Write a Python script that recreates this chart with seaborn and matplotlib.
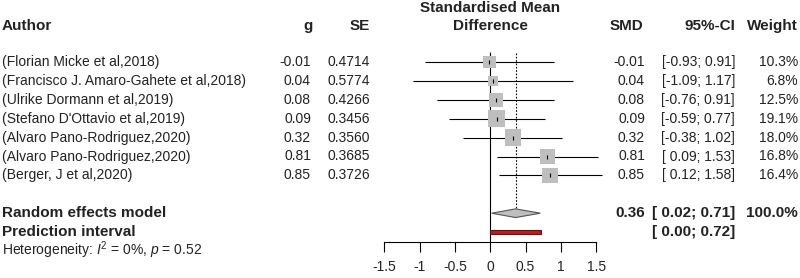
import matplotlib
matplotlib.use("Agg")
import matplotlib.pyplot as plt
import matplotlib.transforms as mtransforms
import numpy as np
import pandas as pd
import seaborn as sns

authors = ["(Florian Micke et al,2018)",
           "(Francisco J. Amaro-Gahete et al,2018)",
           "(Ulrike Dormann et al,2019)",
           "(Stefano D'Ottavio et al,2019)",
           "(Alvaro Pano-Rodriguez,2020)",
           "(Alvaro Pano-Rodriguez,2020)",
           "(Berger, J et al,2020)"]
g = [-0.01, 0.04, 0.08, 0.09, 0.32, 0.81, 0.85]
se = [0.4714, 0.5774, 0.4266, 0.3456, 0.3560, 0.3685, 0.3726]
lower = [-0.93, -1.09, -0.76, -0.59, -0.38, 0.09, 0.12]
upper = [0.91, 1.17, 0.91, 0.77, 1.02, 1.53, 1.58]
weight = [10.3, 6.8, 12.5, 19.1, 18.0, 16.8, 16.4]

re_est, re_lo, re_hi = 0.36, 0.02, 0.71
pi_lo, pi_hi = 0.00, 0.72
ticks = [-1.5, -1, -0.5, 0, 0.5, 1, 1.5]


def fmt_ci(lo, hi):
    a = f"{lo:.2f}" if lo < 0 else f" {lo:.2f}"
    return f"[{a}; {hi:.2f}]"


sns.set_theme(style="white")
plt.rcParams["font.family"] = ["Liberation Sans", "DejaVu Sans"]
plt.rcParams["mathtext.fontset"] = "custom"
plt.rcParams["mathtext.rm"] = "Liberation Sans"
plt.rcParams["mathtext.it"] = "Liberation Sans:italic"

df = pd.DataFrame({"author": authors, "g": g, "se": se, "lower": lower,
                   "upper": upper, "weight": weight})
df["row"] = np.arange(len(df))
re_row = len(df) + 1
pi_row = re_row + 1

W, H = 800, 278
fig = plt.figure(figsize=(W / 100, H / 100), dpi=100)
ax = fig.add_axes([0, 0, 1, 1])

# pixel layout: x=0 at 490px, 70.6 px per unit; row 0 at 62px, 18.9 px per row
px_unit, x0 = 70.6, 490.2
row_px, y0 = 18.9, 62
ax.set_xlim(-x0 / px_unit, (W - x0) / px_unit)
ax.set_ylim((H - y0) / row_px, -y0 / row_px)

# confidence intervals
ax.hlines(df["row"], df["lower"], df["upper"], color="black", lw=0.8, zorder=2)
# weighted squares
area = 7.6
sns.scatterplot(data=df, x="g", y="row", size="weight",
                sizes=(area * min(weight), area * max(weight)),
                marker="s", color="#BEBEBE", linewidth=0, legend=False,
                ax=ax, zorder=3)
ax.scatter(df["g"], df["row"], marker="|", s=12, color="black", lw=0.8, zorder=4)

# zero line and summary dotted line
ax.vlines(0, -0.55, pi_row + 0.5, color="black", lw=0.8, zorder=1)
ax.vlines(re_est, -0.5, re_row - 0.23, color="black", lw=0.8,
          linestyles=(0, (1.5, 1.5)), zorder=1)

# diamond
h = 0.23
ax.fill([re_lo, re_est, re_hi, re_est], [re_row, re_row - h, re_row, re_row + h],
        facecolor="#BEBEBE", edgecolor="#555555", lw=0.8, zorder=3)
# prediction interval bar
ax.fill([pi_lo, pi_hi, pi_hi, pi_lo],
        [pi_row - 0.11, pi_row - 0.11, pi_row + 0.11, pi_row + 0.11],
        facecolor="#B22222", edgecolor="#6B0F0F", lw=0.8, zorder=3)

# axis
for s in ["top", "right", "left"]:
    ax.spines[s].set_visible(False)
ax.spines["bottom"].set_position(("data", pi_row + 0.5))
ax.spines["bottom"].set_bounds(ticks[0], ticks[-1])
ax.spines["bottom"].set_linewidth(0.8)
ax.spines["bottom"].set_color("black")
ax.set_xticks(ticks)
ax.set_xticklabels([f"{t:g}" for t in ticks])
ax.tick_params(axis="x", bottom=True, direction="out", length=7, width=0.8,
               color="black", pad=6, labelsize=10, labelcolor="#222222")
ax.set_yticks([])
ax.set_xlabel("")
ax.set_ylabel("")

# text columns (x in pixels)
tr = mtransforms.blended_transform_factory(fig.transFigure, ax.transData)
fs = 10
fb = 11
tc = "#222222"


def put(xpx, row, s, ha="left", bold=False, size=None):
    if size is None:
        size = fb if bold else fs
    ax.text(xpx / W, row, s, transform=tr, ha=ha, va="center", fontsize=size,
            fontweight="bold" if bold else "normal", color=tc)


hdr = -1.9
put(2, hdr, "Author", bold=True)
put(313, hdr, "g", ha="right", bold=True)
put(370, hdr, "SE", ha="right", bold=True)
put(x0, hdr - 0.98, "Standardised Mean", ha="center", bold=True)
put(x0, hdr, "Difference", ha="center", bold=True)
put(643, hdr, "SMD", ha="right", bold=True)
put(735, hdr, "95%-CI", ha="right", bold=True)
put(798, hdr, "Weight", ha="right", bold=True)

for r in df.itertuples():
    put(2, r.row, r.author)
    put(311, r.row, f"{r.g:.2f}", ha="right")
    put(370, r.row, f"{r.se:.4f}", ha="right")
    put(645, r.row, f"{r.g:.2f}", ha="right")
    put(735, r.row, fmt_ci(r.lower, r.upper), ha="right")
    put(798, r.row, f"{r.weight:.1f}%", ha="right")

put(2, re_row, "Random effects model", bold=True)
put(645, re_row, f"{re_est:.2f}", ha="right", bold=True)
put(735, re_row, fmt_ci(re_lo, re_hi), ha="right", bold=True)
put(798, re_row, "100.0%", ha="right", bold=True)
put(2, pi_row, "Prediction interval", bold=True)
put(735, pi_row, fmt_ci(pi_lo, pi_hi), ha="right", bold=True)
put(2, pi_row + 0.95, r"Heterogeneity: $I^2$ = 0%, $p$ = 0.52", size=10)

fig.savefig("out.png", dpi=100)
